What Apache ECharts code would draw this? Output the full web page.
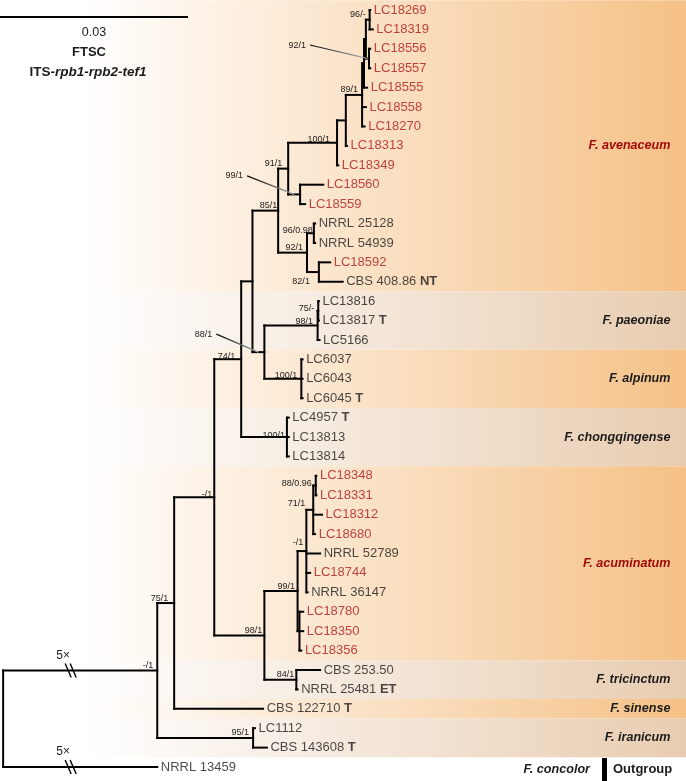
<!DOCTYPE html>
<html><head><meta charset="utf-8">
<script src="https://cdn.jsdelivr.net/npm/echarts@6/dist/echarts.min.js"></script>
<style>html,body{margin:0;padding:0;background:#fff}#c{width:686px;height:781px}</style>
</head><body><div id="c"></div>
<script>
// ---------- DATA ----------
// Branch lengths are in units of 0.001 substitutions per site (scale bar = 0.03).
const leafNames = ['LC18269','LC18319','LC18556','LC18557','LC18555','LC18558','LC18270','LC18313','LC18349','LC18560','LC18559','NRRL 25128','NRRL 54939','LC18592','CBS 408.86','LC13816','LC13817','LC5166','LC6037','LC6043','LC6045','LC4957','LC13813','LC13814','LC18348','LC18331','LC18312','LC18680','NRRL 52789','LC18744','NRRL 36147','LC18780','LC18350','LC18356','CBS 253.50','NRRL 25481','CBS 122710','LC1112','CBS 143608','NRRL 13459'];
const leafTags = ['','','','','','','','','','','','','','','NT','','T','','','','T','T','','','','','','','','','','','','','','ET','T','','T',''];
const leafNew = [1,1,1,1,1,1,1,1,1,1,1,0,0,1,0, 0,0,0,0,0,0,0,0,0, 1,1,1,1,0,1,0,1,1,1, 0,0,0,0,0,0];
const leafParent = ['K','K','L','L','J','G','G','F','n100','n99','n99','N','N','O','O','Q','Q','P','R','R','R','S','S','S','Z','Z','Y','Y','W','W','W','X','X','X','V','V','sin','IR','IR','root'];
const leafLength = [0.1,0.5,0.2,0.2,0.5,0.6,0.4,0.2,0.2,3.7,0.8,0.2,0.2,1.8,3.8,0.1,0.1,0.3,0.2,0.2,0.2,0.3,0.3,0.3,0.1,0.1,1.4,0.3,2.2,0.6,0.2,0.6,0.6,0.3,3.8,0.2,14.2,0.3,2.2,24.6];

const nodeIds     = ['root','ir','sin','IR','D','E','C','B','A','n100','F','G','J','H','K','L','n99','M','N','O','n88','P','Q','R','S','T98','U99','W','Y','Z','X','V'];
const nodeParent  = [null,'root','ir','ir','sin','D','E','C','B','A','n100','F','G','J','H','H','A','B','M','M','C','n88','P','n88','E','D','T98','U99','W','Y','U99','T98'];
const nodeLength  = [0,24.6,2.7,15.3,6.4,4.3,1.8,4.1,1.6,7.8,1.4,2.6,0.3,0.3,0.6,0.5,1.9,4.6,1.1,1.9,1.9,8.5,0.1,5.9,7.3,8.0,5.3,1.4,1.1,0.4,0.3,5.1];
const nodeSupport = ['','-/1','75/1','95/1','-/1','74/1','','85/1','91/1','100/1','','89/1','','','96/-','92/1','99/1','92/1','96/0.98','82/1','88/1','98/1','75/-','100/1','100/1','98/1','99/1','-/1','71/1','88/0.96','','84/1'];

const cladeNames = ['F. avenaceum','F. paeoniae','F. alpinum','F. chongqingense','F. acuminatum','F. tricinctum','F. sinense','F. iranicum'];
const cladeFirst = [0,15,18,21,24,34,36,37];
const cladeLast  = [14,17,20,23,33,35,36,38];
const cladeNew   = [1,0,0,0,1,0,0,0];
const cladeShade = [0,1,0,1,0,1,0,1];

const brokenBranches = ['ir','NRRL 13459'];   // drawn shortened, "5×"
const brokenFactor = '5×';
const scaleBarValue = 0.03;
const distanceUnit = 0.001;

// ---------- STYLE / LAYOUT ----------
const FONT = '"Liberation Sans", Arial, Helvetica, sans-serif';
const RED = '#ae1a1a', DARKRED = '#a00b0b', INK = '#1c1c1c';
const shadeColors = [['#ffffff','#f5c186'],['#ffffff','#e8ccb0']];
const xMin = -0.5, xMax = 109, yMin = -0.515, yMax = 39.72;
const labelShift = { // [dx, dy] px for support labels (default [-4,-5])
  B:[-1,-5], N:[-1,-3], O:[-9,9], Q:[-4,-2], P:[-4.5,-3.5], R:[-4,-3], S:[-2,-2], E:[-6,-3], D:[-2,-3],
  Z:[-4,-2], Y:[-8,-6], W:[-3,-9], n100:[-7,-3], A:[-6,-5], sin:[-6,-5], T98:[-2,-5], U99:[-2.5,-5], V:[-2,-5],
  L:[-63,-13.5], n99:[-57,-18.5], n88:[-52,-18]
};
const pointerNodes = ['L','n99','n88'];

// ---------- TREE LAYOUT (depth = cumulative branch length, y = leaf row) ----------
const idx = {}; nodeIds.forEach((id,i)=>idx[id]=i);
const children = {}; nodeIds.forEach(id=>children[id]=[]);
nodeIds.forEach((id,i)=>{ if(nodeParent[i]) children[nodeParent[i]].push({t:'n',id}); });
leafNames.forEach((n,i)=>children[leafParent[i]].push({t:'l',i}));
const depthMemo = {};
function nodeDepth(id){ if(id in depthMemo) return depthMemo[id]; const i=idx[id]; const d = nodeParent[i]? nodeDepth(nodeParent[i])+nodeLength[i] : 0; depthMemo[id]=d; return d; }
const yMemo = {}, spanMemo = {};
function childY(c){ return c.t==='l' ? c.i : nodeY(c.id); }
function nodeY(id){ if(id in yMemo) return yMemo[id]; const ys = children[id].map(childY); const lo=Math.min(...ys), hi=Math.max(...ys); spanMemo[id]=[lo,hi]; yMemo[id]=(lo+hi)/2; return yMemo[id]; }
nodeIds.forEach(id=>{nodeDepth(id); nodeY(id);});

const segments = [];
leafNames.forEach((n,i)=>{ const pd=nodeDepth(leafParent[i]); segments.push([pd,i,pd+leafLength[i],i]); });
nodeIds.forEach((id,i)=>{
  const d=nodeDepth(id), y=nodeY(id);
  if(nodeParent[i]) segments.push([nodeDepth(nodeParent[i]),y,d,y]);
  const s=spanMemo[id]; segments.push([d,s[0],d,s[1]]);
});

const leafData = leafNames.map((n,i)=>({value:[nodeDepth(leafParent[i])+leafLength[i], i], name:n, tag:leafTags[i], isNew:leafNew[i]}));
const supportData = [];
nodeIds.forEach((id,i)=>{ if(nodeSupport[i]) supportData.push([nodeDepth(id), nodeY(id), i]); });
const breakData = brokenBranches.map(b=>{
  const li = leafNames.indexOf(b);
  if(li>=0){ const pd=nodeDepth(leafParent[li]); return [pd, pd+leafLength[li], li]; }
  const i=idx[b]; return [nodeDepth(nodeParent[i]), nodeDepth(b), nodeY(b)];
});
const bandData = cladeNames.map((n,i)=>[cladeFirst[i], cladeLast[i], i]);

// ---------- CHART ----------
const chart = echarts.init(document.getElementById('c'));
function txt(x,y,text,font,fill,align,va){
  return {type:'text', x, y, style:{text, font, fill, align, textAlign:align, verticalAlign:va||'middle', textVerticalAlign:va||'middle'}};
}
chart.setOption({
  animation:false,
  backgroundColor:'#ffffff',
  grid:{left:0,right:0,top:0,bottom:0,containLabel:false},
  xAxis:{type:'value',min:xMin,max:xMax,show:false},
  yAxis:{type:'value',min:yMin,max:yMax,inverse:true,show:false},
  series:[
    { // clade bands
      type:'custom', silent:true, z:1, data:bandData,
      renderItem:(params,api)=>{
        const cs=params.coordSys;
        const p1=api.coord([xMin, api.value(0)-0.5]), p2=api.coord([xMax, api.value(1)+0.5]);
        const k=cladeShade[api.value(2)];
        return {type:'rect', shape:{x:cs.x, y:p1[1], width:cs.width, height:p2[1]-p1[1]},
          style:{fill:new echarts.graphic.LinearGradient(0,0,1,0,[{offset:0,color:shadeColors[k][0]},{offset:0.12,color:shadeColors[k][0]},{offset:1,color:shadeColors[k][1]}])}};
      }
    },
    { // clade names
      type:'custom', silent:true, z:5, data:bandData,
      renderItem:(params,api)=>{
        const i=api.value(2);
        const p=api.coord([xMax,(api.value(0)+api.value(1))/2]);
        return txt(p[0]-15.5, p[1], cladeNames[i], 'italic bold 12.6px '+FONT, cladeNew[i]?DARKRED:INK, 'right');
      }
    },
    { // branches
      type:'custom', silent:true, z:3, data:segments,
      dimensions:['x1','y1','x2','y2'], encode:{x:[0,2],y:[1,3]},
      renderItem:(params,api)=>{
        const a=api.coord([api.value(0),api.value(1)]), b=api.coord([api.value(2),api.value(3)]);
        return {type:'line', shape:{x1:a[0],y1:a[1],x2:b[0],y2:b[1]}, style:{stroke:'#000',lineWidth:2,lineCap:'square'}};
      }
    },
    { // breaks on shortened branches
      type:'custom', silent:true, z:4, data:breakData,
      renderItem:(params,api)=>{
        const a=api.coord([api.value(0),api.value(2)]), b=api.coord([api.value(1),api.value(2)]);
        const cx=a[0]+(b[0]-a[0])*0.435, cy=a[1];
        const st={stroke:'#000',lineWidth:1.4};
        return {type:'group', children:[
          {type:'line', shape:{x1:cx-5,y1:cy-7,x2:cx+1,y2:cy+7}, style:st},
          {type:'line', shape:{x1:cx,y1:cy-7,x2:cx+6,y2:cy+7}, style:st},
          txt(cx-7, cy-15, brokenFactor, '12px '+FONT, INK, 'center')
        ]};
      }
    },
    { // support values
      type:'custom', silent:true, z:5, data:supportData,
      renderItem:(params,api)=>{
        const i=api.value(2), id=nodeIds[i];
        const p=api.coord([api.value(0),api.value(1)]);
        const sh=labelShift[id]||[-4,-5];
        const lx=p[0]+sh[0], ly=p[1]+sh[1];
        const kids=[txt(lx, ly, nodeSupport[i], '9px '+FONT, INK, 'right')];
        if(pointerNodes.indexOf(id)>=0){
          const pp=api.coord([nodeDepth(nodeParent[i]), api.value(1)]);
          const x1=lx+4, y1=ly, x2=(pp[0]+p[0])/2, y2=p[1];
          kids.push({type:'line', shape:{x1,y1,x2,y2},
            style:{stroke:new echarts.graphic.LinearGradient(x1,y1,x2,y2,[{offset:0,color:'#000'},{offset:1,color:'#aaa'}],true),lineWidth:1.2}});
        }
        return {type:'group', children:kids};
      }
    },
    { // scale bar
      type:'custom', silent:true, z:5, data:[[scaleBarValue/distanceUnit]],
      renderItem:(params,api)=>{
        const a=api.coord([xMin,0]), b=api.coord([xMin+api.value(0),0]);
        const y=a[1]+7;
        return {type:'group', children:[
          {type:'line', shape:{x1:a[0],y1:y,x2:b[0],y2:y}, style:{stroke:'#000',lineWidth:2}},
          txt((a[0]+b[0])/2, y+16, String(scaleBarValue), '12.5px '+FONT, INK, 'center')
        ]};
      }
    },
    { // outgroup marker
      type:'custom', silent:true, z:5, data:[[xMax, leafNames.length-1]],
      renderItem:(params,api)=>{
        const p=api.coord([api.value(0),api.value(1)]);
        const cs=params.coordSys;
        return {type:'group', children:[
          txt(p[0]-96, p[1]+2, 'F. concolor', 'italic bold 12.6px '+FONT, INK, 'right'),
          {type:'rect', shape:{x:p[0]-84, y:p[1]-9, width:5, height:cs.y+cs.height-(p[1]-9)}, style:{fill:'#000'}},
          txt(p[0]-73, p[1]+2, 'Outgroup', 'bold 13px '+FONT, INK, 'left')
        ]};
      }
    },
    { // leaf labels
      type:'scatter', silent:true, z:6, symbolSize:0.1, itemStyle:{color:'rgba(0,0,0,0)'},
      data:leafData,
      label:{show:true, position:'right', distance:3.5,
        formatter:p=>'{'+(p.data.isNew?'r':'k')+'|'+p.data.name+(p.data.tag?' ':'')+'}'+(p.data.tag?'{b|'+p.data.tag+'}':''),
        rich:{
          r:{color:RED, fontSize:13, fontFamily:FONT},
          k:{color:INK, fontSize:13, fontFamily:FONT},
          b:{color:INK, fontSize:13, fontFamily:FONT, fontWeight:'bold'}
        }
      }
    }
  ],
  graphic:{elements:[
    {type:'text', z:100, x:89, y:52, style:{text:'FTSC', font:'bold 13px '+FONT, fill:INK, align:'center', textAlign:'center', verticalAlign:'middle', textVerticalAlign:'middle'}},
    {type:'text', z:100, x:88, y:72, style:{text:'{a|ITS-}{b|rpb1-rpb2-tef1}', fill:INK, align:'center', textAlign:'center', verticalAlign:'middle', textVerticalAlign:'middle',
      rich:{a:{fontSize:13.5, fontWeight:'bold', fontFamily:FONT, fill:INK}, b:{fontSize:13.5, fontWeight:'bold', fontStyle:'italic', fontFamily:FONT, fill:INK}}}}
  ]}
});
</script></body></html>
